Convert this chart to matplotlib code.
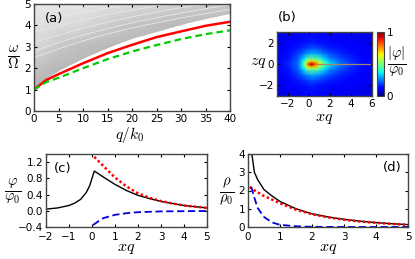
import numpy as np
import matplotlib
matplotlib.use('Agg')
import matplotlib.pyplot as plt

plt.rcParams['mathtext.fontset'] = 'cm'
plt.rcParams['font.size'] = 7.5
plt.rcParams['xtick.direction'] = 'in'
plt.rcParams['ytick.direction'] = 'in'
plt.rcParams['xtick.top'] = True
plt.rcParams['ytick.right'] = True
plt.rcParams['xtick.major.size'] = 2.5
plt.rcParams['ytick.major.size'] = 2.5
plt.rcParams['xtick.major.pad'] = 2
plt.rcParams['ytick.major.pad'] = 2
plt.rcParams['axes.linewidth'] = 1.0
plt.rcParams['axes.edgecolor'] = '#444444'

# panel a
q_a = [0, 2.5, 5, 10, 15, 20, 25, 30, 35, 40]
red_a = [1.0, 1.45, 1.72, 2.23, 2.7, 3.09, 3.45, 3.72, 3.98, 4.17]
green_a = [1.0, 1.35, 1.55, 2.0, 2.42, 2.78, 3.08, 3.36, 3.59, 3.77]
edge_a = [1.0, 1.5, 1.85, 2.45, 2.95, 3.35, 3.7, 4.0, 4.3, 4.53]
top_a = [5, 5, 5, 5, 5, 5, 5, 5, 5, 5]
# grey level of the fan, lighter towards the top left
w_shade = [1, 2, 3, 4, 5]
shade_a = [
    [.68, .70, .72, .74, .76, .78, .78, .78, .76, .72],
    [.76, .74, .72, .72, .74, .76, .78, .78, .78, .76],
    [.84, .82, .78, .74, .72, .72, .74, .76, .76, .74],
    [.88, .87, .86, .84, .80, .76, .74, .72, .72, .72],
    [.90, .90, .90, .90, .88, .86, .84, .82, .80, .78],
]
# pale bands in the grey fan
bands_a = [
    [2.5, 2.7, 2.9, 3.28, 3.6, 3.88, 4.12, 4.35, 4.55, 4.75],
    [2.8, 3.0, 3.2, 3.55, 3.85, 4.12, 4.36, 4.58, 4.78, 4.97],
    [3.2, 3.4, 3.55, 3.87, 4.15, 4.4, 4.62, 4.83, 5.0, 5.15],
    [3.7, 3.85, 3.98, 4.25, 4.5, 4.72, 4.92, 5.1, 5.2, 5.3],
    [4.2, 4.3, 4.4, 4.6, 4.8, 4.98, 5.1, 5.2, 5.3, 5.4],
    [4.6, 4.65, 4.72, 4.85, 4.97, 5.1, 5.2, 5.3, 5.4, 5.5],
]

# panel b
x_b = [-3, -2, -1, -0.5, -0.25, 0, 0.25, 0.5, 1, 1.5, 2, 3, 4, 5, 6]
z_b = [0, 0.25, 0.5, 1, 1.5, 2, 3]
field_b = [
    [.11, .15, .24, .42, .62, .88, 1.0, .90, .66, .46, .35, .24, .18, .14, .11],
    [.11, .15, .23, .38, .52, .66, .72, .70, .54, .40, .31, .22, .17, .13, .11],
    [.11, .14, .22, .33, .40, .46, .49, .48, .42, .33, .26, .20, .16, .13, .11],
    [.10, .13, .18, .23, .26, .28, .29, .29, .27, .23, .20, .16, .14, .12, .10],
    [.10, .12, .15, .17, .18, .19, .20, .20, .19, .17, .15, .14, .12, .11, .10],
    [.09, .11, .13, .14, .14, .15, .15, .15, .14, .14, .13, .12, .11, .10, .09],
    [.08, .09, .10, .11, .11, .11, .11, .11, .11, .11, .10, .10, .09, .09, .08],
]
tail_x = [0.8, 5.8]
tail_z = [0, 0]

# panel c
x_c = [-2, -1.5, -1, -.75, -.5, -.25, -.1, 0, .1, .5, 1, 1.5, 2, 2.5, 3, 3.5, 4, 4.5, 5]
black_c = [.04, .07, .13, .19, .28, .45, .62, .8, .98, .83, .65, .5, .38, .3, .23, .18, .13, .1, .07]
x_red_c = [.1, .5, 1, 1.5, 2, 2.5, 3, 3.5, 4, 4.5, 5]
red_c = [1.33, 1.1, .82, .6, .43, .32, .24, .18, .13, .1, .07]
x_blue_c = [.05, .25, .5, 1, 1.5, 2, 3, 4, 5]
blue_c = [-.35, -.27, -.18, -.1, -.06, -.035, -.015, -.01, -.005]

# panel d
x_d = [.12, .2, .3, .5, .75, 1, 1.5, 2, 2.5, 3, 3.5, 4, 4.5, 5]
black_d = [4.0, 3.0, 2.6, 2.05, 1.7, 1.4, 1.0, .72, .55, .42, .32, .24, .18, .13]
x_red_d = [.05, .25, .5, 1, 1.5, 2, 2.5, 3, 3.5, 4, 4.5, 5]
red_d = [2.2, 1.95, 1.7, 1.3, .95, .7, .53, .4, .3, .23, .17, .12]
x_blue_d = [.1, .2, .3, .5, .75, 1, 1.5, 2, 3, 5]
blue_d = [2.2, 1.6, 1.05, .55, .25, .12, .04, .01, 0, 0]

W, H = 415, 259
fig = plt.figure(figsize=(W / 100, H / 100), dpi=100)


def box(x0, y0, x1, y1):
    return [x0 / W, 1 - y1 / H, (x1 - x0) / W, (y1 - y0) / H]


def label(x, y, s, size=11, **kw):
    fig.text(x / W, 1 - y / H, s, fontsize=size, ha='center', va='center', **kw)


ax1 = fig.add_axes(box(34, 4, 230, 111))
fan = ax1.fill_between(q_a, edge_a, top_a, color='none', lw=0)
grey = ax1.pcolormesh(q_a, w_shade, shade_a, cmap='gray', vmin=0, vmax=1, shading='gouraud')
grey.set_clip_path(fan.get_paths()[0], ax1.transData)
for b in bands_a:
    line, = ax1.plot(q_a, b, color='#e8e8e8', lw=0.6)
    line.set_clip_path(fan.get_paths()[0], ax1.transData)
ax1.plot(q_a, red_a, color='red', lw=1.8)
ax1.plot(q_a, green_a, color='#00cc00', lw=1.6, dashes=(3, 1.8))
ax1.set_xlim(0, 40)
ax1.set_ylim(0, 5)
ax1.set_xticks(range(0, 41, 5))
ax1.text(2.2, 4.3, '(a)', fontsize=9.5, va='center')

ax2 = fig.add_axes(box(277, 32, 372, 96))
z_all = [-v for v in z_b[:0:-1]] + z_b
field_all = np.vstack([field_b[:0:-1], field_b])
mesh = ax2.pcolormesh(x_b, z_all, field_all, cmap='jet', vmin=0, vmax=1, shading='gouraud')
ax2.plot(tail_x, tail_z, color='#a08868', lw=0.9)
ax2.set_xlim(-3, 6)
ax2.set_ylim(-3, 3)
ax2.set_xticks([-2, 0, 2, 4, 6])
ax2.set_yticks([-2, 0, 2])

cax = fig.add_axes(box(377, 32, 384, 96))
cb = fig.colorbar(mesh, cax=cax, ticks=[0, 1])
cb.ax.tick_params(length=0, pad=2, labelsize=7.5)
cb.outline.set_linewidth(0.8)

ax3 = fig.add_axes(box(46, 154, 207, 227))
ax3.plot(x_c, black_c, color='k', lw=1)
ax3.plot(x_red_c, red_c, color='red', lw=1.8, ls=(0, (1, 1)))
ax3.plot(x_blue_c, blue_c, color='#0000dd', lw=1.3, dashes=(4, 2))
ax3.set_xlim(-2, 5)
ax3.set_ylim(-0.4, 1.4)
ax3.set_xticks(range(-2, 6))
ax3.set_yticks([-0.4, 0, 0.4, 0.8, 1.2])
ax3.tick_params(axis='x', pad=3.5)
ax3.text(-1.67, 1.05, '(c)', fontsize=9.5, va='center')

ax4 = fig.add_axes(box(248, 154, 408, 227))
ax4.plot(x_d, black_d, color='k', lw=1)
ax4.plot(x_red_d, red_d, color='red', lw=1.8, ls=(0, (1, 1)))
ax4.plot(x_blue_d, blue_d, color='#0000dd', lw=1.3, dashes=(4, 2))
ax4.set_xlim(0, 5)
ax4.set_ylim(0, 4)
ax4.set_xticks(range(6))
ax4.set_yticks(range(5))
ax4.tick_params(axis='x', pad=3.5)
ax4.text(4.22, 3.28, '(d)', fontsize=9.5, va='center')

label(130, 135, r'$q/k_0$', 11)
label(13, 58, r'$\frac{\omega}{\Omega}$', 15)
label(287, 18, '(b)', 9.5)
label(324, 118, r'$xq$', 11.5)
label(258, 63, r'$zq$', 11.5)
label(397, 62, r'$\frac{|\varphi|}{\varphi_0}$', 15)
label(126, 248, r'$xq$', 11.5)
label(13, 192, r'$\frac{\varphi}{\varphi_0}$', 15)
label(328, 248, r'$xq$', 11.5)
label(227, 192, r'$\frac{\rho}{\rho_0}$', 15)

fig.savefig('out.png', dpi=100)
